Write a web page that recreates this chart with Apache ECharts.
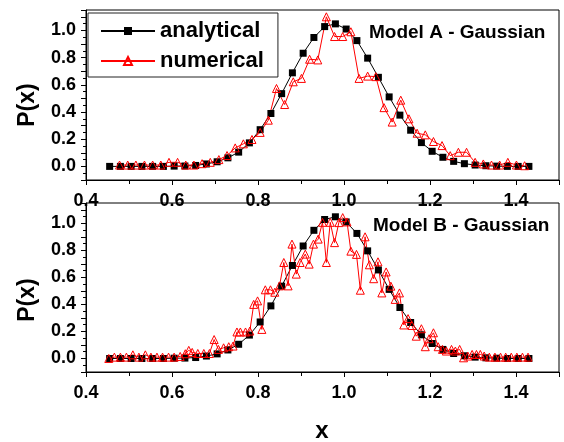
<!DOCTYPE html>
<html>
<head>
<meta charset="utf-8">
<script src="https://cdn.jsdelivr.net/npm/echarts@6/dist/echarts.min.js"></script>
<style>
  html, body { margin: 0; padding: 0; background: #fff; }
  #chart { width: 564px; height: 442px; }
</style>
</head>
<body>
<div id="chart"></div>
<script>
var FONT = '"Liberation Sans", Arial, sans-serif';

// analytical curve (same in both panels)
var analyticalX = [0.455, 0.48, 0.505, 0.53, 0.555, 0.58, 0.605, 0.63, 0.655, 0.68,
  0.705, 0.73, 0.755, 0.78, 0.805, 0.83, 0.855, 0.88, 0.905, 0.93,
  0.955, 0.98, 1.005, 1.03, 1.055, 1.08, 1.105, 1.13, 1.155, 1.18,
  1.205, 1.23, 1.255, 1.28, 1.305, 1.33, 1.355, 1.38, 1.405, 1.43];
var analyticalY = [0, 0, 0, 0, 0, 0, 0.002, 0.003, 0.007, 0.018,
  0.034, 0.063, 0.105, 0.173, 0.27, 0.389, 0.535, 0.688, 0.832, 0.948,
  1.028, 1.048, 1.01, 0.925, 0.796, 0.655, 0.511, 0.377, 0.266, 0.175,
  0.111, 0.067, 0.037, 0.02, 0.01, 0.005, 0.002, 0, 0, 0];

// Model A numerical
var numAX = [0.478, 0.497, 0.516, 0.536, 0.555, 0.574, 0.593, 0.613, 0.632, 0.651,
  0.670, 0.689, 0.709, 0.728, 0.747, 0.766, 0.786, 0.805, 0.824, 0.843,
  0.862, 0.882, 0.901, 0.920, 0.939, 0.959, 0.978, 0.997, 1.016, 1.035,
  1.055, 1.074, 1.093, 1.112, 1.132, 1.151, 1.170, 1.189, 1.208, 1.228,
  1.247, 1.266, 1.285, 1.305, 1.324, 1.343, 1.362, 1.381, 1.401, 1.420];
var numAY = [0.01, 0.01, 0.01, 0.01, 0.01, 0.01, 0.03, 0.03, 0.01, 0.01,
  0.02, 0.03, 0.05, 0.08, 0.136, 0.166, 0.198, 0.25, 0.34, 0.573,
  0.455, 0.622, 0.647, 0.788, 0.783, 1.10, 0.955, 0.955, 0.99, 0.647,
  0.664, 0.66, 0.432, 0.326, 0.487, 0.35, 0.244, 0.232, 0.183, 0.153,
  0.079, 0.104, 0.104, 0.03, 0.018, 0.01, 0.01, 0.03, 0.01, 0.005];

// Model B numerical
var numBX = [0.453, 0.466, 0.480, 0.494, 0.509, 0.523, 0.538, 0.551, 0.565, 0.578,
  0.592, 0.605, 0.619, 0.631, 0.639, 0.647, 0.660, 0.674, 0.687, 0.698,
  0.708, 0.720, 0.732, 0.742, 0.751, 0.759, 0.771, 0.781, 0.790, 0.799,
  0.809, 0.817, 0.829, 0.839, 0.850, 0.860, 0.870, 0.879, 0.889, 0.898,
  0.910, 0.919, 0.929, 0.940, 0.950, 0.959, 0.968, 0.978, 0.988, 0.997,
  1.007, 1.016, 1.029, 1.038, 1.049, 1.059, 1.069, 1.079, 1.088, 1.098,
  1.109, 1.119, 1.129, 1.139, 1.149, 1.158, 1.168, 1.180, 1.189, 1.198,
  1.208, 1.219, 1.229, 1.238, 1.250, 1.259, 1.269, 1.278, 1.288, 1.298,
  1.308, 1.317, 1.326, 1.338, 1.351, 1.364, 1.376, 1.389, 1.402, 1.415,
  1.428];
var numBY = [0.0, 0.01, 0.01, 0.01, 0.027, 0.01, 0.027, 0.01, 0.01, 0.01,
  0.01, 0.01, 0.015, 0.035, 0.06, 0.045, 0.037, 0.037, 0.037, 0.14,
  0.067, 0.079, 0.087, 0.092, 0.196, 0.196, 0.196, 0.203, 0.40, 0.426,
  0.215, 0.508, 0.508, 0.49, 0.537, 0.71, 0.537, 0.846, 0.624, 0.71,
  0.772, 0.698, 0.846, 0.883, 1.007, 0.71, 1.007, 0.857, 1.005, 1.042,
  1.01, 0.794, 0.77, 0.505, 0.90, 0.693, 0.59, 0.715, 0.485, 0.64,
  0.535, 0.437, 0.485, 0.248, 0.295, 0.244, 0.165, 0.22, 0.087, 0.146,
  0.19, 0.087, 0.067, 0.055, 0.067, 0.055, 0.067, 0.005, 0.018, 0.03,
  0.03, 0.03, 0.018, 0.01, 0.01, 0.01, 0.01, 0.01, 0.01, 0.01,
  0.01];

function pairs(xs, ys) {
  return xs.map(function (x, i) { return [x, ys[i]]; });
}

function xAxisFor(idx) {
  return {
    type: 'value', gridIndex: idx,
    min: 0.4, max: 1.5, interval: 0.2,
    axisLine: { onZero: false, lineStyle: { color: '#000', width: 1 } },
    axisTick: { length: 5, lineStyle: { color: '#000' } },
    minorTick: { show: true, splitNumber: 2, length: 4, lineStyle: { color: '#000' } },
    splitLine: { show: false },
    axisLabel: {
      color: '#000', fontSize: 18, fontWeight: 'bold', fontFamily: FONT, margin: 12,
      formatter: function (v) { return v > 1.45 ? '' : v.toFixed(1); }
    }
  };
}

function yAxisFor(idx) {
  return {
    type: 'value', gridIndex: idx,
    min: -0.1, max: 1.15, interval: 0.1,
    axisLine: { onZero: false, lineStyle: { color: '#000', width: 1 } },
    axisTick: { length: 5, lineStyle: { color: '#000' } },
    minorTick: { show: true, splitNumber: 2, length: 3, lineStyle: { color: '#000' } },
    splitLine: { show: false },
    axisLabel: {
      color: '#000', fontSize: 18, fontWeight: 'bold', fontFamily: FONT, margin: 10,
      formatter: function (v) {
        var k = Math.round(v * 10);
        return (v > -0.01 && v < 1.01 && k % 2 === 0) ? v.toFixed(1) : '';
      }
    }
  };
}

function analyticalSeries(idx) {
  return {
    name: 'analytical', type: 'line', xAxisIndex: idx, yAxisIndex: idx,
    data: pairs(analyticalX, analyticalY),
    symbol: 'rect', symbolSize: 7,
    lineStyle: { color: '#000', width: 1 },
    itemStyle: { color: '#000' }
  };
}

function numericalSeries(idx, xs, ys) {
  return {
    name: 'numerical', type: 'line', xAxisIndex: idx, yAxisIndex: idx,
    data: pairs(xs, ys),
    symbol: 'triangle', symbolSize: 8,
    lineStyle: { color: '#ff0000', width: 1 },
    itemStyle: { color: 'rgba(255,255,255,0)', borderColor: '#ff0000', borderWidth: 1 }
  };
}

var chart = echarts.init(document.getElementById('chart'));
chart.setOption({
  animation: false,
  backgroundColor: '#fff',
  grid: [
    { left: 86, right: 5, top: 10, height: 170, show: true, borderColor: '#000', borderWidth: 1 },
    { left: 86, right: 5, top: 203, height: 169, show: true, borderColor: '#000', borderWidth: 1 }
  ],
  xAxis: [xAxisFor(0), xAxisFor(1)],
  yAxis: [yAxisFor(0), yAxisFor(1)],
  legend: {
    data: ['analytical', 'numerical'],
    orient: 'vertical', left: 88, top: 13,
    padding: [7, 14, 5, 12], itemGap: 8,
    itemWidth: 54, itemHeight: 10,
    borderColor: '#222', borderWidth: 1,
    textStyle: { color: '#000', fontSize: 22, fontWeight: 'bold', fontFamily: FONT }
  },
  graphic: [
    { type: 'text', x: 369, y: 33, style: { text: 'Model A - Gaussian', font: 'bold 19px ' + FONT, fill: '#000', verticalAlign: 'middle' } },
    { type: 'text', x: 373, y: 226, style: { text: 'Model B - Gaussian', font: 'bold 19px ' + FONT, fill: '#000', verticalAlign: 'middle' } },
    { type: 'text', x: 28, y: 105, rotation: Math.PI / 2, style: { text: 'P(x)', font: 'bold 23px ' + FONT, fill: '#000', align: 'center', verticalAlign: 'middle' } },
    { type: 'text', x: 28, y: 300, rotation: Math.PI / 2, style: { text: 'P(x)', font: 'bold 23px ' + FONT, fill: '#000', align: 'center', verticalAlign: 'middle' } },
    { type: 'text', x: 322, y: 431, style: { text: 'x', font: 'bold 24px ' + FONT, fill: '#000', align: 'center', verticalAlign: 'middle' } }
  ],
  series: [
    analyticalSeries(0),
    numericalSeries(0, numAX, numAY),
    analyticalSeries(1),
    numericalSeries(1, numBX, numBY)
  ]
});
</script>
</body>
</html>
